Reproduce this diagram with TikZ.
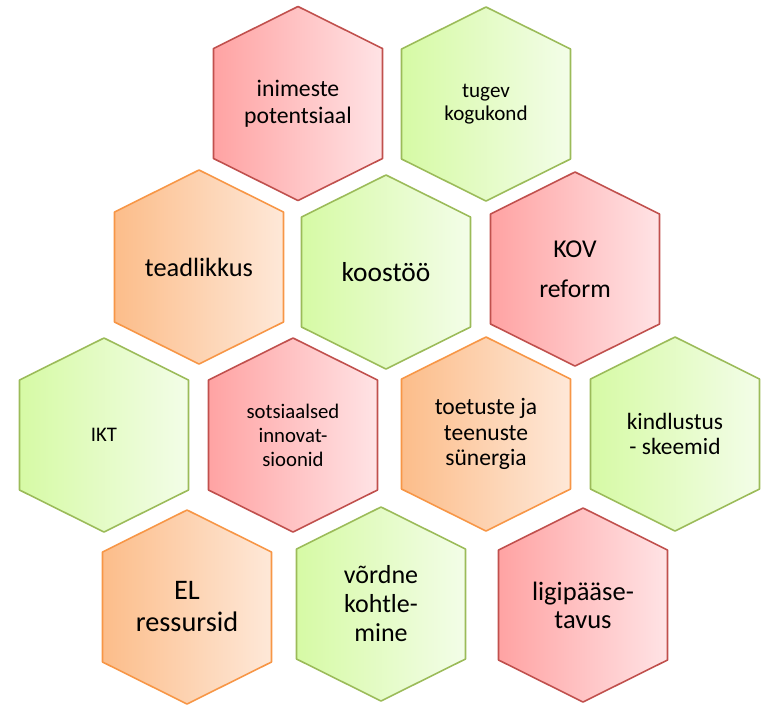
\documentclass[tikz,border=0pt]{standalone}
\usepackage{fontspec}
\setmainfont{Carlito}
\usepackage{tikz}
\usetikzlibrary{shadows.blur}
\definecolor{redline}{RGB}{192,80,77}
\definecolor{greenline}{RGB}{155,187,89}
\definecolor{orangeline}{RGB}{247,150,70}
\tikzset{pics/hexcell/.style={code={
  \path[pic actions] (0, 1.94) -- (1.69, 1.1) -- (1.69, -1.1) -- (0, -1.94) -- (-1.69, -1.1) -- (-1.69, 1.1) -- cycle;}}}
\tikzstyle{hexa}=[line width=0.9pt, line join=round,
  blur shadow={shadow xshift=0.6pt, shadow yshift=-1.8pt, shadow blur radius=2.2pt, shadow opacity=30}]
\tikzstyle{rhex}=[hexa, draw=redline, left color={rgb,255:red,255;green,163;blue,163}, right color={rgb,255:red,255;green,227;blue,229}]
\tikzstyle{ghex}=[hexa, draw=greenline, left color={rgb,255:red,214;green,250;blue,165}, right color={rgb,255:red,243;green,253;blue,232}]
\tikzstyle{ohex}=[hexa, draw=orangeline, left color={rgb,255:red,252;green,189;blue,138}, right color={rgb,255:red,254;green,232;blue,216}]
\tikzstyle{word}=[inner sep=0pt, align=center]
\newcommand{\fs}[2]{\fontsize{#1}{#2}\selectfont}

\begin{document}
\begin{tikzpicture}
        \useasboundingbox (0, 0) rectangle (15.3, -14.1);
        % top row
        \path (5.96, -2.07) pic[rhex] {hexcell} node[word, font=\fs{13.5}{15.4}] (inimeste) {inimeste\\potentsiaal};
        \path (9.72, -2.08) pic[ghex] {hexcell} node[word, font=\fs{12}{12.7}] (kogukond) {tugev\\kogukond};
        % second row
        \path (3.98, -5.34) pic[ohex] {hexcell} node[word, font=\fs{15}{18}] (teadlikkus) {teadlikkus};
        \path (7.72, -5.44) pic[ghex] {hexcell} node[word, font=\fs{15.6}{18}] (koostoo) {koostöö};
        \path (11.50, -5.38) pic[rhex] {hexcell} node[word, font=\fs{14.6}{22.8}] (kov) {KOV\\reform};
        % third row
        \path (2.08, -8.70) pic[ghex] {hexcell} node[word, font=\fs{11.8}{13.7}] (ikt) {IKT};
        \path (5.86, -8.70) pic[rhex] {hexcell} node[word, font=\fs{11.8}{13.7}] (innov) {sotsiaalsed\\innovat-\\sioonid};
        \path (9.72, -8.68) pic[ohex] {hexcell} node[word, font=\fs{13.4}{14.6}] (synergia) {toetuste ja\\teenuste\\sünergia};
        \path (13.50, -8.68) pic[ghex] {hexcell} node[word, font=\fs{13.3}{14.6}] (skeemid) {kindlustus\\- skeemid};
        % bottom row
        \path (3.74, -12.14) pic[ohex] {hexcell} node[word, font=\fs{16.1}{18.2}] (ressursid) {EL\\ressursid};
        \path (7.62, -12.08) pic[ghex] {hexcell} node[word, font=\fs{14.8}{16.5}] (kohtlemine) {võrdne\\kohtle-\\mine};
        \path (11.66, -12.10) pic[rhex] {hexcell} node[word, font=\fs{15.1}{15.9}] (tavus) {ligipääse-\\tavus};
\end{tikzpicture}
\end{document}
